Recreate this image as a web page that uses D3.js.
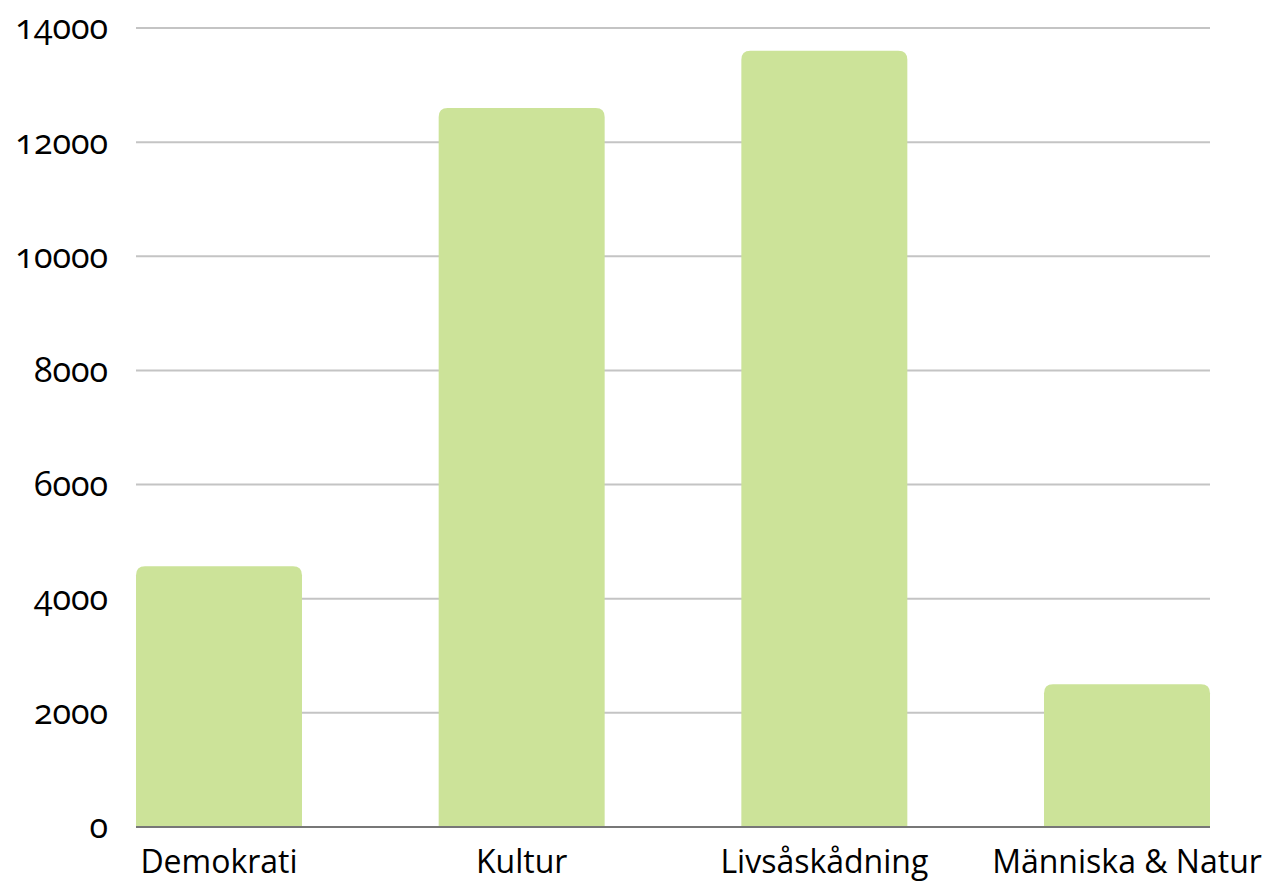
<!DOCTYPE html>
<html>
<head>
<meta charset="utf-8">
<script src="https://cdn.jsdelivr.net/npm/d3@7"></script>
<style>
  body { margin: 0; background: #fff; }
  svg text { font-family: "Open Sans", sans-serif; font-variant-numeric: oldstyle-nums; font-feature-settings: "onum"; fill: #000; }
</style>
</head>
<body>
<svg width="1271" height="885"></svg>
<script>
// data
var categories = ["Demokrati", "Kultur", "Livsåskådning", "Människa & Natur"];
var values = [4570, 12600, 13600, 2500];
var yTicks = [0, 2000, 4000, 6000, 8000, 10000, 12000, 14000];

var svg = d3.select("svg"),
    margin = { top: 28, right: 61, bottom: 58, left: 136 },
    width = +svg.attr("width") - margin.left - margin.right,
    height = +svg.attr("height") - margin.top - margin.bottom,
    g = svg.append("g").attr("transform", "translate(" + margin.left + "," + margin.top + ")");

var x = d3.scaleBand()
    .domain(categories)
    .range([0, width])
    .paddingInner(0.4516)
    .paddingOuter(0);

var y = d3.scaleLinear()
    .domain([0, 14000])
    .range([height, 0]);

// gridlines
g.append("g")
    .selectAll("line")
    .data(yTicks.slice(1))
    .enter().append("line")
    .attr("x1", 0)
    .attr("x2", width)
    .attr("y1", function (d) { return y(d); })
    .attr("y2", function (d) { return y(d); })
    .attr("stroke", "#c4c4c4")
    .attr("stroke-width", 2);

// y labels
var yAxis = g.append("g")
    .call(d3.axisLeft(y).tickValues(yTicks).tickSize(0).tickPadding(28).tickFormat(d3.format("d")));
yAxis.select(".domain").remove();
yAxis.selectAll("text")
    .attr("font-size", 34)
    .style("font-family", null);

// bars with rounded tops
var r = 9;
g.append("g")
    .selectAll("path")
    .data(values)
    .enter().append("path")
    .attr("fill", "#cce399")
    .attr("d", function (d, i) {
        var x0 = x(categories[i]), w = x.bandwidth(), y0 = y(d), yb = y(0);
        return "M" + x0 + "," + yb +
            "V" + (y0 + r) +
            "Q" + x0 + "," + y0 + " " + (x0 + r) + "," + y0 +
            "H" + (x0 + w - r) +
            "Q" + (x0 + w) + "," + y0 + " " + (x0 + w) + "," + (y0 + r) +
            "V" + yb + "Z";
    });

// baseline
g.append("line")
    .attr("x1", 0)
    .attr("x2", width)
    .attr("y1", y(0))
    .attr("y2", y(0))
    .attr("stroke", "#777")
    .attr("stroke-width", 2);

// x labels
var xAxis = g.append("g")
    .attr("transform", "translate(0," + height + ")")
    .call(d3.axisBottom(x).tickSize(0).tickPadding(23));
xAxis.select(".domain").remove();
xAxis.selectAll("text")
    .attr("font-size", 32)
    .style("font-family", null);
</script>
</body>
</html>
